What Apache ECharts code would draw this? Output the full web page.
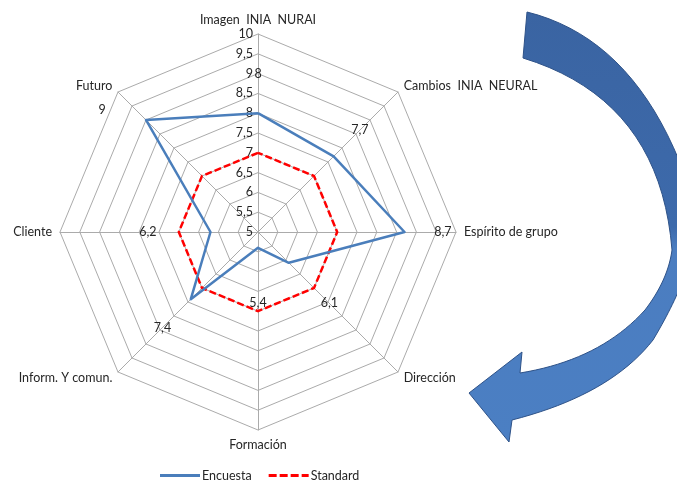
<!DOCTYPE html>
<html>
<head>
<meta charset="utf-8">
<script src="https://cdn.jsdelivr.net/npm/echarts@6/dist/echarts.min.js"></script>
<style>
html,body{margin:0;padding:0;background:#fff;}
#chart{width:677px;height:482px;}
</style>
</head>
<body>
<div id="chart"></div>
<script>
// ---- data (indicators listed counter-clockwise from the top, as ECharts lays them out)
var categories = ['Imagen  INIA  NURAI', 'Futuro', 'Cliente', 'Inform. Y comun.', 'Formación', 'Dirección', 'Espírito de grupo', 'Cambios  INIA  NEURAL'];
var encuesta = [8, 9, 6.2, 7.4, 5.4, 6.1, 8.7, 7.7];
var standard = [7, 7, 7, 7, 7, 7, 7, 7];
var axisMin = 5;
var axisMax = 10;
var axisSplits = 10;

// ---- layout: radial value at which each Encuesta value label sits (moved by hand in the original)
var labelAnchor = [9.0, 9.8, 7.78, 8.41, 6.79, 7.55, 9.67, 8.64];

var FONT = 'Lato';
var FS = 12.5;
var TXT = '#262626';
function comma(v) { return String(v).replace('.', ','); }

// decorative curved arrow outline (quadratic segments sampled into a polygon)
function arrowPoints() {
  var segs = [
    ['M', 527, 12],
    ['Q', 640, 40, 690, 190],
    ['L', 690, 262],
    ['Q', 677, 300, 653, 340],
    ['Q', 610, 395, 512, 420],
    ['L', 509, 442],
    ['L', 469, 393],
    ['L', 522, 352],
    ['L', 520, 373],
    ['Q', 600, 360, 645, 310],
    ['Q', 668, 280, 672, 250],
    ['Q', 660, 100, 523, 58]
  ];
  var pts = [], cur = null;
  segs.forEach(function (s) {
    if (s[0] === 'M' || s[0] === 'L') { cur = [s[1], s[2]]; pts.push(cur); }
    else {
      var p0 = cur, c = [s[1], s[2]], p1 = [s[3], s[4]];
      for (var k = 1; k <= 20; k++) {
        var t = k / 20, u = 1 - t;
        pts.push([u * u * p0[0] + 2 * u * t * c[0] + t * t * p1[0], u * u * p0[1] + 2 * u * t * c[1] + t * t * p1[1]]);
      }
      cur = p1;
    }
  });
  return pts;
}

var chart = echarts.init(document.getElementById('chart'));
var indicator = categories.map(function (c, i) {
  var ind = { name: c, min: axisMin, max: axisMax };
  if (i === 0) {
    ind.axisLabel = { show: true, margin: 5, fontFamily: FONT, fontSize: FS, color: TXT, formatter: comma };
  }
  return ind;
});

var option = {
  backgroundColor: '#ffffff',
  animation: false,
  textStyle: { fontFamily: FONT },
  legend: {
    data: [
      { name: 'Encuesta', icon: 'path://M0,0H40V3H0Z' },
      { name: 'Standard', icon: 'path://M0,0H8V3H0Z M11,0H19V3H11Z M22,0H30V3H22Z M33,0H40V3H33Z' }
    ],
    left: 155, top: 464,
    itemWidth: 40, itemHeight: 3, itemGap: 17,
    selectedMode: false,
    textStyle: { fontFamily: FONT, fontSize: FS, color: TXT, padding: [0, 0, 0, -3] },
    itemStyle: { borderWidth: 0 }
  },
  radar: {
    center: [258, 232],
    radius: 198,
    startAngle: 90,
    shape: 'polygon',
    splitNumber: axisSplits,
    nameGap: 8,
    axisName: { color: TXT, fontFamily: FONT, fontSize: FS },
    axisLine: { lineStyle: { color: '#ababab', width: 1 } },
    splitLine: { lineStyle: { color: '#ababab', width: 1 } },
    splitArea: { show: false },
    axisTick: { show: false },
    axisLabel: { show: false },
    indicator: indicator
  },
  series: [
    {
      type: 'radar', name: 'Encuesta', z: 3, silent: true,
      symbol: 'none',
      itemStyle: { color: '#4a7ebb' },
      lineStyle: { color: '#4a7ebb', width: 2.5 },
      data: [{ value: encuesta, name: 'Encuesta' }]
    },
    {
      type: 'radar', name: 'Standard', z: 2, silent: true,
      symbol: 'none',
      itemStyle: { color: '#ff0000' },
      lineStyle: { color: '#ff0000', width: 2.5, type: [7, 3] },
      data: [{ value: standard, name: 'Standard' }]
    },
    {
      type: 'radar', name: 'labels', z: 4, silent: true,
      symbol: 'circle', symbolSize: 1,
      itemStyle: { color: 'rgba(0,0,0,0)' },
      lineStyle: { width: 0, opacity: 0 },
      label: {
        show: true, position: 'inside',
        fontFamily: FONT, fontSize: FS, color: TXT,
        formatter: function (p) {
          var i = labelAnchor.indexOf(p.value);
          if (i < 0) return '';
          var t = comma(encuesta[i]);
          return i === 1 ? '{f|' + t + '}' : t;
        },
        rich: { f: { fontFamily: FONT, fontSize: FS, color: TXT, padding: [25, 43, 0, 0] } }
      },
      data: [{ value: labelAnchor, name: 'labels' }]
    }
  ],
  graphic: [
    {
      type: 'polygon', z: 10, silent: true,
      shape: { points: arrowPoints() },
      style: {
        fill: {
          type: 'linear', x: 0, y: 0, x2: 0, y2: 1,
          colorStops: [
            { offset: 0, color: '#3a64a2' },
            { offset: 0.5, color: '#3d6aab' },
            { offset: 0.55, color: '#4b7dc0' },
            { offset: 1, color: '#4b7fc3' }
          ]
        },
        stroke: '#2e5288', lineWidth: 1
      }
    }
  ]
};
chart.setOption(option);
</script>
</body>
</html>
